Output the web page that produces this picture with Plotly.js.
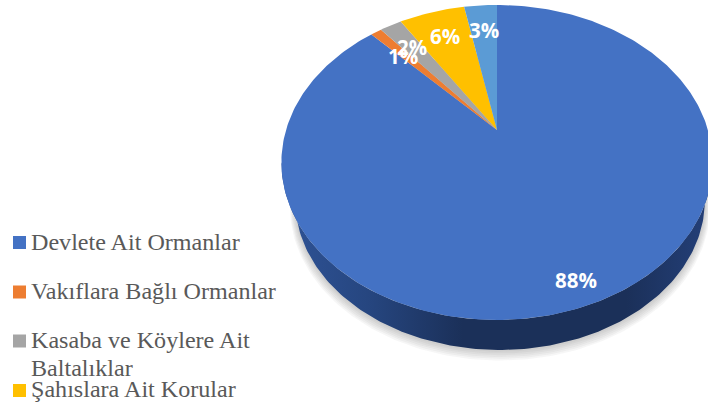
<!DOCTYPE html>
<html><head><meta charset="utf-8">
<script src="https://cdn.plot.ly/plotly-3.0.1.min.js"></script>
<style>html,body{margin:0;padding:0;background:#fff;overflow:hidden}#c{width:708px;height:405px}</style>
</head><body><div id="c"></div>
<script>
const sliceValues = [88, 1, 2, 6, 3];
const sliceColors = ['#4472C4', '#ED7D31', '#A5A5A5', '#FFC000', '#5B9BD5'];
const legendLabels = ['Devlete Ait Ormanlar', 'Vakıflara Bağlı Ormanlar', 'Kasaba ve Köylere Ait<br>Baltalıklar', 'Şahıslara Ait Korular'];
const legendMarkerY = [242.5, 292, 341, 390.5];
const legendTextY = [228, 277, 326, 375];
const labelX = [576, 403, 412, 444.5, 483.5];
const labelY = [280, 56, 47, 36, 30];

// tilted-disc projection of the pie
const cx = 497, cy = 130, k = 0.206, a = 150.8, b = 211;
function rim(frac, s, dy, dx) {
  const t = 2 * Math.PI * frac, u = Math.sin(t), v = Math.cos(t), d = 1 + k * v;
  return [cx + dx + s * b * u / d, cy + dy - s * a * v / d];
}
function arc(f0, f1, s, dy, dx) {
  const n = Math.max(2, Math.ceil(Math.abs(f1 - f0) * 360)), xs = [], ys = [];
  for (let i = 0; i <= n; i++) { const p = rim(f0 + (f1 - f0) * i / n, s, dy, dx); xs.push(p[0]); ys.push(p[1]); }
  return [xs, ys];
}
const traces = [];
// soft shadow
for (let i = 6; i >= 1; i--) {
  const A = arc(0, 1, 0.95 + i * 0.004, 39.5 + i * 1.0, 3);
  traces.push({x: A[0], y: A[1], mode: 'lines', fill: 'toself', line: {width: 0}, fillcolor: 'rgba(90,90,90,0.055)', hoverinfo: 'skip', showlegend: false});
}
// the legend box hides the shadow behind it
traces.push({x: [0, 293, 293, 0, 0], y: [231, 231, 405, 405, 231], mode: 'lines', fill: 'toself', line: {width: 0}, fillcolor: '#fff', hoverinfo: 'skip', showlegend: false});
// side wall
const fLeft = 1 - 0.2829, fRight = 0.2829;
const rimArc = arc(fLeft, fRight, 1, 0, 0), botArc = arc(fRight, fLeft, 0.95, 39.5, 3);
traces.push({x: rimArc[0].concat(botArc[0]), y: rimArc[1].concat(botArc[1]), mode: 'lines', fill: 'toself', line: {width: 0},
  fillgradient: {type: 'horizontal', colorscale: [[0, '#2f5396'], [0.2, '#264680'], [0.42, '#1b3059'], [0.8, '#1b3059'], [1, '#24407a']]},
  hoverinfo: 'skip', showlegend: false});
// slices, clockwise from twelve o'clock, ending with the last value at the top
const total = sliceValues.reduce((p, c) => p + c, 0);
let cum = 0;
sliceValues.forEach((val, i) => {
  const A = arc(cum / total, (cum + val) / total, 1, 0, 0);
  cum += val;
  traces.push({x: [cx].concat(A[0], [cx]), y: [cy].concat(A[1], [cy]), mode: 'lines', fill: 'toself', line: {width: 0},
    fillcolor: sliceColors[i], hoverinfo: 'skip', showlegend: false});
});
// legend markers
traces.push({x: legendLabels.map(() => 19.5), y: legendMarkerY, mode: 'markers',
  marker: {symbol: 'square', size: 13, color: sliceColors.slice(0, 4), line: {width: 0}}, hoverinfo: 'skip', showlegend: false});

const annotations = [];
sliceValues.forEach((val, i) => annotations.push({x: labelX[i], y: labelY[i], xref: 'x', yref: 'y', text: val + '%', showarrow: false,
  font: {family: '"Open Sans", sans-serif', size: 20.5, color: '#fff', weight: 700}}));
legendLabels.forEach((t, i) => t.split('<br>').forEach((line, j) => annotations.push({x: 29.5, y: legendTextY[i] + j * 28, xref: 'x', yref: 'y', xanchor: 'left', yanchor: 'top', align: 'left', text: line, showarrow: false, borderpad: 0,
  font: {family: '"Liberation Serif", serif', size: 24.1, color: '#595959'}})));

Plotly.newPlot('c', traces, {
  width: 708, height: 405, margin: {l: 0, r: 0, t: 0, b: 0}, paper_bgcolor: '#fff', plot_bgcolor: '#fff', showlegend: false,
  xaxis: {range: [0, 708], visible: false, fixedrange: true},
  yaxis: {range: [405, 0], visible: false, fixedrange: true},
  annotations: annotations
}, {displayModeBar: false, staticPlot: true});
</script></body></html>
